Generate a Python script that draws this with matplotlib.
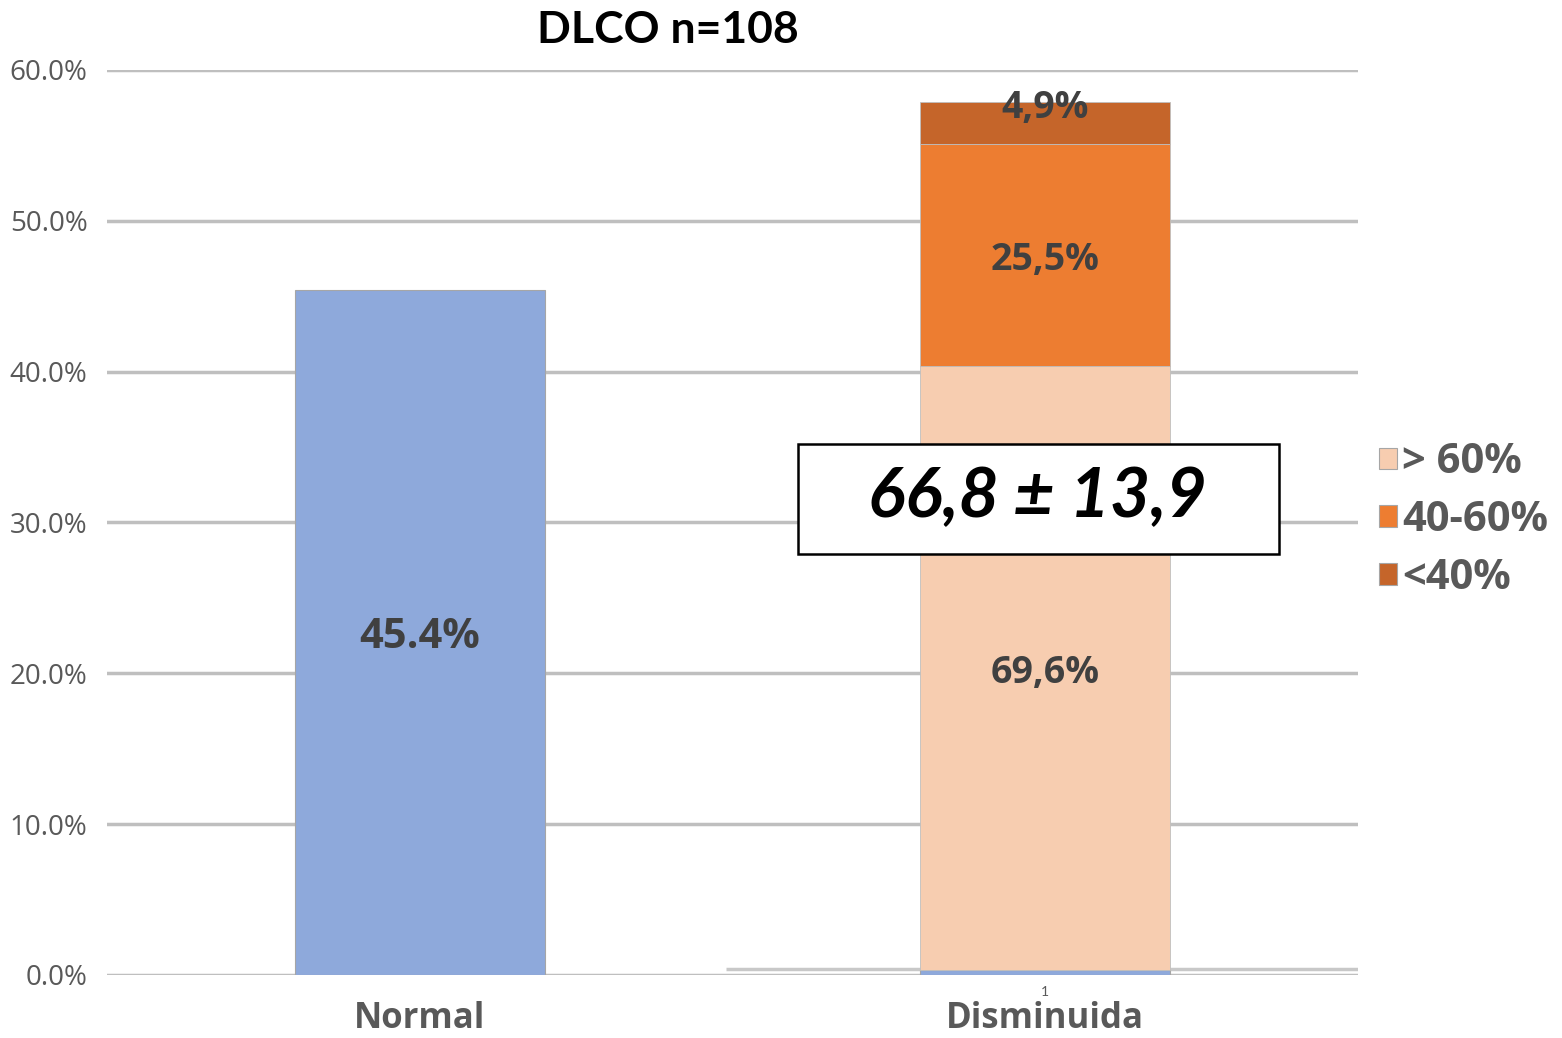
import matplotlib.pyplot as plt
from matplotlib.patches import Patch, Rectangle

categories = ['Normal', 'Disminuida']
normal_vals = [45.4, 0.3]          # % of patients, blue series
dim_total = 57.6                   # height of the stacked "Disminuida" bar
sub_labels = ['> 60%', '40-60%', '<40%']
sub_shares = [69.6, 25.5, 4.9]     # share of each DLCO band inside the stacked bar
sub_colors = ['#F7CDB0', '#ED7D31', '#C5652A']
yticks = [0, 10, 20, 30, 40, 50, 60]

fig = plt.figure(figsize=(15.62, 10.38), dpi=100)
ax = fig.add_axes([0.0685, 0.0607, 0.8009, 0.8719])

x = list(range(len(categories)))
w = 0.4
lab_font = dict(fontweight='bold', color='#404040', family='Open Sans', zorder=4)

ax.bar(x, normal_vals, width=w, color='#8EA9DB', edgecolor='#A6A6A6', linewidth=0.8, zorder=3)
ax.text(0, normal_vals[0] / 2 - 0.3, f'{normal_vals[0]:.1f}%', ha='center', va='center',
        fontsize=30, **lab_font)

bottom = normal_vals[1]
for share, col in zip(sub_shares, sub_colors):
    h = dim_total * share / 100
    ax.bar(1, h, width=w, bottom=bottom, color=col, edgecolor='#BFBFBF', linewidth=0.6, zorder=3)
    ypos = bottom + h / 2 - 0.3 if share > 10 else bottom + h - 0.4
    ax.text(1, ypos, f'{share:.1f}%'.replace('.', ','), ha='center', va='center',
            fontsize=27, **lab_font)
    bottom += h

# mean ± sd box
ax.add_patch(Rectangle((0.5524, 0.4652), 0.3845, 0.1215, transform=ax.transAxes,
                       facecolor='white', edgecolor='black', linewidth=1.8, zorder=5))
ax.text(0.744, 0.527, '66,8 ± 13,9', transform=ax.transAxes, ha='center', va='center',
        fontsize=50, fontweight='bold', style='italic', family='Lato', color='black', zorder=6)

ax.set_xlim(-0.5, 1.5)
ax.set_ylim(0, 60)
ax.set_yticks(yticks)
ax.set_yticklabels([f'{v:.1f}%' for v in yticks], fontsize=20, color='#595959', family='Open Sans')
ax.set_xticks(x)
ax.set_xticklabels(categories, fontsize=25, fontweight='bold', color='#595959', family='Open Sans')
ax.tick_params(axis='both', length=0)
ax.tick_params(axis='x', pad=19)
ax.tick_params(axis='y', pad=14)
ax.grid(axis='y', color='#BFBFBF', linewidth=2.5, zorder=0)
ax.hlines(0.4, 0.49, 1.5, color='#C8C8C8', linewidth=2.5, zorder=1)
for s in ax.spines.values():
    s.set_visible(False)
ax.text(1, -1.15, '1', ha='center', va='center', fontsize=10, color='#595959', family='Lato')

fig.text(0.4277, 0.971, 'DLCO n=108', ha='center', va='center', fontsize=32,
         fontweight='bold', family='Lato')

handles = [Patch(facecolor=c, edgecolor='#A6A6A6', linewidth=0.8) for c in sub_colors]
fig.legend(handles, sub_labels, loc='upper left', bbox_to_anchor=(0.8698, 0.594),
           frameon=False, borderpad=0, prop={'family': 'Open Sans', 'weight': 'bold', 'size': 30},
           labelcolor='#595959', handlelength=0.42, handleheight=0.42,
           handletextpad=0.12, labelspacing=0.4)

fig.savefig('out.png', dpi=100, facecolor='white')
